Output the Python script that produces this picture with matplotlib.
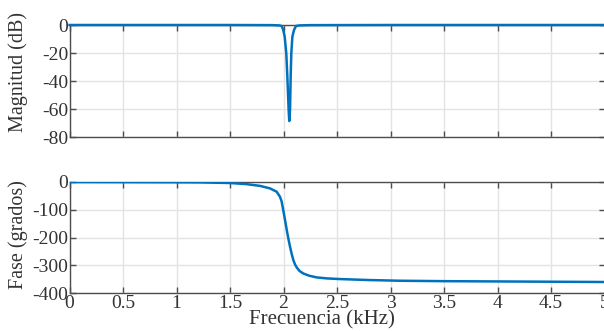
import matplotlib
matplotlib.use("Agg")
import matplotlib.pyplot as plt

# Magnitude response (kHz, dB)
mag_freq = [0.0, 1.50, 1.90, 1.96, 1.983, 1.998, 2.011, 2.017, 2.026, 2.036, 2.048,
            2.054, 2.061, 2.067, 2.073, 2.083, 2.098, 2.117, 2.15, 2.25, 3.0, 5.0]
mag_db = [0.0, 0.0, -0.1, -0.3, -0.7, -3.6, -8.3, -13.1, -20.2, -36.9, -60.7,
          -68.6, -60.7, -36.9, -20.2, -8.3, -3.6, -0.7, -0.3, -0.1, 0.0, 0.0]

# Phase response (kHz, degrees)
ph_freq = [0.0, 0.5, 1.0, 1.22, 1.5, 1.65, 1.78, 1.874, 1.936, 1.967, 1.982, 1.992,
           2.003, 2.014, 2.025, 2.036, 2.048, 2.061, 2.076, 2.092, 2.107, 2.123,
           2.15, 2.185, 2.24, 2.31, 2.40, 2.528, 2.8, 3.09, 3.5, 4.0, 4.5, 5.0]
ph_deg = [-1.0, -1.5, -2.0, -2.4, -4.7, -8.5, -15, -24, -36, -54, -70, -90,
          -113, -137, -161, -185, -209, -233, -258, -281, -296, -307,
          -320, -329, -337, -343, -346.5, -349, -352.5, -355, -356.5, -357.5, -358.5, -359.5]

mag_ticks = [0, -20, -40, -60, -80]
ph_ticks = [0, -100, -200, -300, -400]
x_ticks = [0, 0.5, 1, 1.5, 2, 2.5, 3, 3.5, 4, 4.5, 5]
x_ticklabels = ["0", "0.5", "1", "1.5", "2", "2.5", "3", "3.5", "4", "4.5", "5"]

plt.rcParams['font.family'] = ['Liberation Serif', 'DejaVu Serif']
line_color = '#0072BD'
txt_color = '#333333'
spine_color = '#4d4d4d'

fig = plt.figure(figsize=(6.04, 3.31), dpi=100)
W, H = 604, 331
ax1 = fig.add_axes([69.5 / W, 1 - 137 / H, 535 / W, 112 / H])
ax2 = fig.add_axes([69.5 / W, 1 - 293.3 / H, 535 / W, 111.6 / H])

for ax in (ax1, ax2):
    ax.set_xlim(0, 5)
    ax.grid(True, color='#e3e3e3', linewidth=1.0)
    ax.set_axisbelow(True)
    ax.tick_params(direction='in', top=True, right=True, length=4, width=1,
                   color=spine_color, labelcolor=txt_color, labelsize=14, pad=1)
    for s in ax.spines.values():
        s.set_color(spine_color)
        s.set_linewidth(1.0)
    ax.set_xticks(x_ticks)

ax1.plot(mag_freq, mag_db, color=line_color, linewidth=1.8, zorder=3, clip_on=False)
ax1.set_ylim(-80, 0)
ax1.set_yticks(mag_ticks)
ax1.set_yticklabels([str(t) for t in mag_ticks])
ax1.set_xticklabels([])
ax1.set_ylabel('Magnitud (dB)', fontsize=14.5, color=txt_color)
ax1.yaxis.set_label_coords(-0.078, 0.58)

ax2.plot(ph_freq, ph_deg, color=line_color, linewidth=1.8, zorder=3)
ax2.set_ylim(-400, 0)
ax2.set_yticks(ph_ticks)
ax2.set_yticklabels([str(t) for t in ph_ticks])
ax2.set_xticklabels(x_ticklabels)
ax2.set_ylabel('Fase (grados)', fontsize=14.5, color=txt_color)
ax2.yaxis.set_label_coords(-0.078, 0.53)
ax2.set_xlabel('Frecuencia (kHz)', fontsize=15, color=txt_color)
ax2.xaxis.set_label_coords(0.472, -0.15)

fig.savefig('out.png', dpi=100)
